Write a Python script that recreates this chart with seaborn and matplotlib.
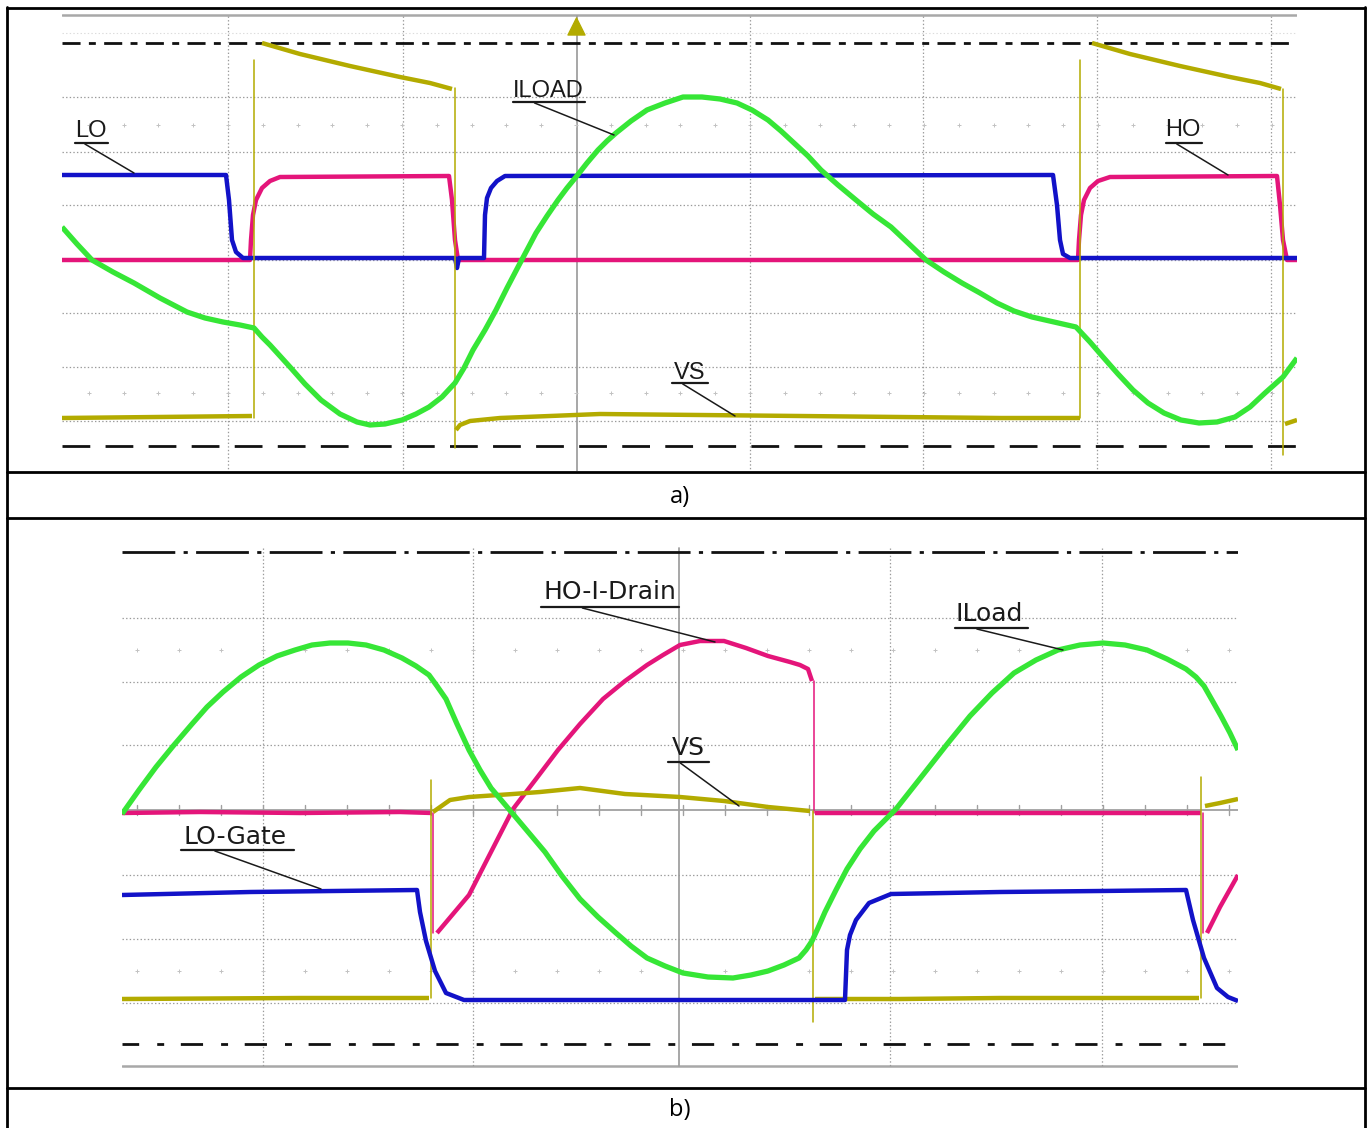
import matplotlib
matplotlib.use("Agg")
import matplotlib.pyplot as plt
import seaborn as sns
import pandas as pd

sns.set_style("white")
plt.rcParams['lines.scale_dashes'] = False
plt.rcParams['font.family'] = ['Liberation Sans', 'DejaVu Sans']

# ---------------- data (screen units) ----------------
# Panel a)
lo_a_t = [62, 226, 229, 232, 236, 243, 455, 457, 459, 484, 485, 487, 491, 497, 505, 1053, 1057, 1060, 1063, 1070, 1297]
lo_a_v = [175, 175, 200, 240, 252, 258, 258, 268, 258, 258, 215, 198, 188, 181, 176, 175, 205, 240, 254, 258, 258]

ho_a_t = [62, 250, 251, 253, 256, 262, 270, 280, 449, 452, 455, 458, 1078, 1079, 1081, 1084, 1090, 1098, 1110, 1277, 1280, 1283, 1287, 1297]
ho_a_v = [260, 260, 240, 215, 200, 188, 181, 177, 176, 200, 240, 260, 260, 240, 215, 200, 188, 181, 177, 176, 205, 240, 260, 260]

vs_a_t = [62, 252, None, 262, 300, 350, 400, 430, 452, None, 456, 460, 470, 500, 550, 600, 700, 800, 900, 1000, 1080, None,
          1092, 1130, 1180, 1230, 1260, 1281, None, 1285, 1297]
vs_a_v = [418, 416, None, 43, 54, 66, 77, 83, 89, None, 430, 425, 421, 418, 416, 414, 415, 416, 417, 418, 418, None,
          43, 54, 66, 77, 83, 89, None, 424, 420]
vs_a_edge_t = [254, 455, 1080, 1283]
vs_a_edge_from = [418, 88, 418, 89]
vs_a_edge_to = [60, 448, 60, 455]

iload_a_t = [62, 77, 92, 113, 134, 160, 187, 205, 223, 240, 254, 262, 270, 280, 290, 305, 321, 340, 357, 370, 385,
             402, 416, 429, 442, 455, 464, 473, 485, 496, 507, 518, 527, 536, 547, 558, 567, 576, 587, 598, 607,
             616, 631, 647, 665, 683, 702, 720, 737, 752, 768, 781, 794, 808, 821, 838, 856, 873, 891, 908, 926,
             944, 962, 980, 997, 1014, 1032, 1054, 1076, 1090, 1103, 1118, 1133, 1148, 1164, 1181, 1199, 1217,
             1235, 1250, 1265, 1283, 1297]
iload_a_v = [227, 244, 260, 272, 283, 298, 312, 318, 322, 325, 328, 337, 345, 356, 367, 384, 400, 414, 422, 425, 424,
             420, 414, 407, 397, 383, 368, 350, 330, 310, 288, 267, 250, 233, 216, 200, 188, 177, 163, 150, 141,
             133, 121, 110, 103, 97, 97, 99, 103, 110, 120, 131, 143, 156, 170, 185, 200, 214, 227, 243, 260,
             272, 283, 293, 303, 311, 317, 322, 327, 342, 357, 374, 390, 403, 413, 420, 423, 422,
             417, 407, 393, 377, 358]

# Panel b)
hoid_b_t = [122, 200, 300, 400, 432, None, 437, 453, 469, 491, 513, 536, 558, 580, 603, 625, 647, 663, 680, 700, 724,
            746, 768, 790, 800, 808, 812, None, 815, 900, 1000, 1100, 1201, None, 1207, 1220, 1238]
hoid_b_v = [813, 812, 813, 812, 813, None, 933, 914, 895, 852, 809, 779, 750, 724, 699, 681, 665, 655, 645, 641, 641,
            648, 656, 662, 665, 669, 681, None, 813, 813, 813, 813, 813, None, 933, 907, 875]
hoid_b_edge_t = [433, 814, 1203]
hoid_b_edge_from = [813, 681, 813]
hoid_b_edge_to = [933, 813, 933]

logate_b_t = [122, 250, 417, 420, 426, 435, 446, 464, 500, 600, 700, 845, 847, 850, 856, 869, 891, 1000, 1100, 1186,
              1193, 1204, 1217, 1228, 1238]
logate_b_v = [895, 892, 890, 912, 941, 971, 993, 1000, 1000, 1000, 1000, 1000, 950, 935, 920, 903, 894, 892, 891, 890,
              920, 958, 988, 997, 1001]

vs_b_t = [122, 300, 429, None, 433, 450, 469, 513, 540, 580, 625, 680, 724, 768, 810, None,
          815, 900, 1000, 1100, 1199, None, 1205, 1220, 1238]
vs_b_v = [999, 998, 998, None, 812, 800, 797, 794, 792, 788, 794, 797, 801, 807, 811, None,
          999, 999, 998, 998, 998, None, 806, 803, 799]
vs_b_edge_t = [431, 813, 1201]
vs_b_edge_from = [998, 811, 998]
vs_b_edge_to = [780, 1022, 777]

iload_b_t = [122, 139, 156, 174, 192, 207, 223, 241, 259, 277, 295, 312, 330, 348, 366, 384, 402, 416, 429, 437, 446,
             457, 469, 480, 491, 502, 513, 529, 545, 562, 580, 598, 616, 631, 647, 665, 683, 708, 733, 751, 768,
             784, 799, 806, 812, 818, 825, 836, 847, 860, 874, 885, 896, 911, 926, 948, 970, 992, 1014, 1036, 1058,
             1080, 1103, 1125, 1147, 1167, 1186, 1196, 1204, 1212, 1221, 1230, 1238]
iload_b_v = [814, 790, 767, 745, 724, 707, 692, 677, 665, 656, 650, 645, 643, 643, 645, 650, 658, 666, 675, 686, 699,
             724, 750, 770, 788, 801, 814, 833, 852, 876, 899, 917, 933, 946, 958, 966, 973, 977, 978, 975, 971,
             965, 958, 950, 941, 928, 912, 890, 869, 849, 831, 820, 809, 790, 771, 743, 716, 693, 673, 660, 650,
             645, 643, 645, 650, 659, 669, 677, 686, 700, 716, 733, 750]

# labels: text, x-centre, baseline, underline x0, x1, y, leader end x, y
labels_a = [("LO", 91, 137, 75, 108, 143, 134, 173),
            ("ILOAD", 548, 97, 513, 585, 102, 614, 135),
            ("HO", 1183, 136, 1166, 1202, 143, 1228, 175),
            ("VS", 690, 379, 672, 708, 383, 735, 416)]
labels_b = [("HO-I-Drain", 610, 599, 541, 679, 607, 715, 642),
            ("ILoad", 989, 621, 955, 1028, 628, 1063, 650),
            ("VS", 688, 755, 668, 709, 762, 739, 806),
            ("LO-Gate", 235, 844, 181, 294, 850, 321, 889)]

# ---------------- drawing ----------------
W, H = 1370, 1128
fig = plt.figure(figsize=(W / 100, H / 100), dpi=100)

BLUE = '#1212c8'
PINK = '#e4157a'
GREEN = '#36e636'
OLIVE = '#b3ab00'
GRID = '#9a9a9a'
DOT = (0, (1, 1.6))


def make_ax(x0, x1, y0, y1, z=1):
    ax = fig.add_axes([x0 / W, 1 - y1 / H, (x1 - x0) / W, (y1 - y0) / H], zorder=z)
    ax.patch.set_alpha(0)
    return ax


def finish(ax, x0, x1, y0, y1):
    ax.set_xlim(x0, x1)
    ax.set_ylim(y1, y0)
    ax.axis('off')


def trace(ax, t, v, color, lw, z):
    seg_t, seg_v = [], []
    for a, b in list(zip(t, v)) + [(None, None)]:
        if a is None:
            if seg_t:
                df = pd.DataFrame({'t': seg_t, 'v': seg_v})
                sns.lineplot(data=df, x='t', y='v', ax=ax, sort=False, estimator=None,
                             color=color, lw=lw, zorder=z, legend=False,
                             solid_capstyle='butt', solid_joinstyle='round')
            seg_t, seg_v = [], []
        else:
            seg_t.append(a)
            seg_v.append(b)


def edges(ax, xs, y0s, y1s, color, z):
    for x, a, b in zip(xs, y0s, y1s):
        ax.plot([x, x], [a, b], color=color, lw=1.1, zorder=z)


def labels(ax, specs, fs, family):
    for txt, xc, yb, u0, u1, uy, lx, ly in specs:
        ax.text(xc, yb, txt, ha='center', va='baseline', fontsize=fs, family=family,
                color='#1a1a1a', zorder=10)
        ax.plot([u0, u1], [uy, uy], color='#1a1a1a', lw=1.6, zorder=10)
        sx = u0 + 0.3 * (u1 - u0)
        ax.plot([sx, lx], [uy + 1, ly], color='#1a1a1a', lw=1.1, zorder=10)


# background frame axes
bg = fig.add_axes([0, 0, 1, 1], zorder=0)
bg.set_xlim(0, W)
bg.set_ylim(H, 0)
bg.axis('off')
for y in [7.5, 472, 518, 1088]:
    bg.plot([7, 1365.5], [y, y], color='black', lw=2.0)
for x in [7.5, 1365]:
    bg.plot([x, x], [7, H], color='black', lw=2.0)
bg.text(680, 497, "a)", ha='center', va='center', fontsize=17, color='black',
        family=['Open Sans', 'DejaVu Sans'])
bg.text(680, 1110, "b)", ha='center', va='center', fontsize=17, color='black',
        family=['Open Sans', 'DejaVu Sans'])

# ---- panel a ----
AX0, AX1, AY0, AY1 = 62, 1297, 13, 471
axa = make_ax(AX0, AX1, AY0, AY1, z=2)
axa.plot([AX0, AX1], [14.5, 14.5], color='#a8a8a8', lw=1.8, zorder=1)
axa.plot([AX0, AX1], [33, 33], color='#dcdcdc', lw=0.8, ls=DOT, zorder=1)
for x in [228, 403, 750, 923, 1097, 1271]:
    axa.plot([x, x], [16, 471], color=GRID, lw=0.9, ls=DOT, zorder=1)
axa.plot([577, 577], [16, 471], color='#a0a0a0', lw=1.3, zorder=1)
for y in [97, 152, 205, 260, 313, 367, 421]:
    axa.plot([AX0, AX1], [y, y], color=GRID, lw=0.9, ls=DOT, zorder=1)
dots_x = [228 + k * 34.8 for k in range(-4, 31)]
dots_x = [x for x in dots_x if AX0 < x < AX1]
for y in [125, 393]:
    axa.scatter(dots_x, [y] * len(dots_x), marker='+', s=12, color='#c2c2c2', lw=0.7, zorder=1)
axa.plot([AX0, AX1], [43, 43], color='#111111', lw=2.0, ls=(0, (13, 6, 5, 6)), zorder=2)
axa.plot([AX0, AX1], [446, 446], color='#111111', lw=2.0, ls=(0, (20, 11)), zorder=2)
axa.scatter([576], [26], marker='^', s=150, color=OLIVE, zorder=3)

trace(axa, ho_a_t, ho_a_v, PINK, 3.2, 4)
trace(axa, lo_a_t, lo_a_v, BLUE, 3.2, 5)
trace(axa, vs_a_t, vs_a_v, OLIVE, 3.2, 6)
edges(axa, vs_a_edge_t, vs_a_edge_from, vs_a_edge_to, OLIVE, 6)
trace(axa, iload_a_t, iload_a_v, GREEN, 3.8, 7)
labels(axa, labels_a, 17, ['Liberation Sans', 'DejaVu Sans'])
finish(axa, AX0, AX1, AY0, AY1)

# ---- panel b ----
BX0, BX1, BY0, BY1 = 122, 1238, 540, 1068
axb = make_ax(BX0, BX1, BY0, BY1, z=2)
axb.plot([BX0, BX1], [1066, 1066], color='#a8a8a8', lw=1.8, zorder=1)
for x in [263, 473, 890, 1102]:
    axb.plot([x, x], [548, 1066], color=GRID, lw=0.9, ls=DOT, zorder=1)
axb.plot([679, 679], [548, 1066], color='#a0a0a0', lw=1.3, zorder=1)
for y in [618, 682, 745, 875, 939, 1003]:
    axb.plot([BX0, BX1], [y, y], color=GRID, lw=0.9, ls=DOT, zorder=1)
axb.plot([BX0, BX1], [810, 810], color='#a0a0a0', lw=1.3, zorder=1)
ticks_x = [263 + k * 42 for k in range(-3, 24)]
ticks_x = [x for x in ticks_x if BX0 < x < BX1]
for x in ticks_x:
    axb.plot([x, x], [805, 815], color='#a0a0a0', lw=1.0, zorder=1)
for y in [650, 971]:
    axb.scatter(ticks_x, [y] * len(ticks_x), marker='+', s=12, color='#c2c2c2', lw=0.7, zorder=1)
axb.plot([BX0, BX1], [552, 552], color='#111111', lw=2.0, ls=(0, (38, 6, 3, 6)), zorder=2)
axb.plot([BX0, BX1], [1044, 1044], color='#111111', lw=2.0, ls=(4, (16, 13, 5, 12)), zorder=2)

trace(axb, hoid_b_t, hoid_b_v, PINK, 3.2, 4)
edges(axb, hoid_b_edge_t, hoid_b_edge_from, hoid_b_edge_to, PINK, 4)
trace(axb, vs_b_t, vs_b_v, OLIVE, 3.2, 5)
edges(axb, vs_b_edge_t, vs_b_edge_from, vs_b_edge_to, OLIVE, 5)
trace(axb, logate_b_t, logate_b_v, BLUE, 3.2, 6)
trace(axb, iload_b_t, iload_b_v, GREEN, 3.8, 7)
labels(axb, labels_b, 18, ['DejaVu Sans'])
finish(axb, BX0, BX1, BY0, BY1)

fig.savefig("out.png", dpi=100)
